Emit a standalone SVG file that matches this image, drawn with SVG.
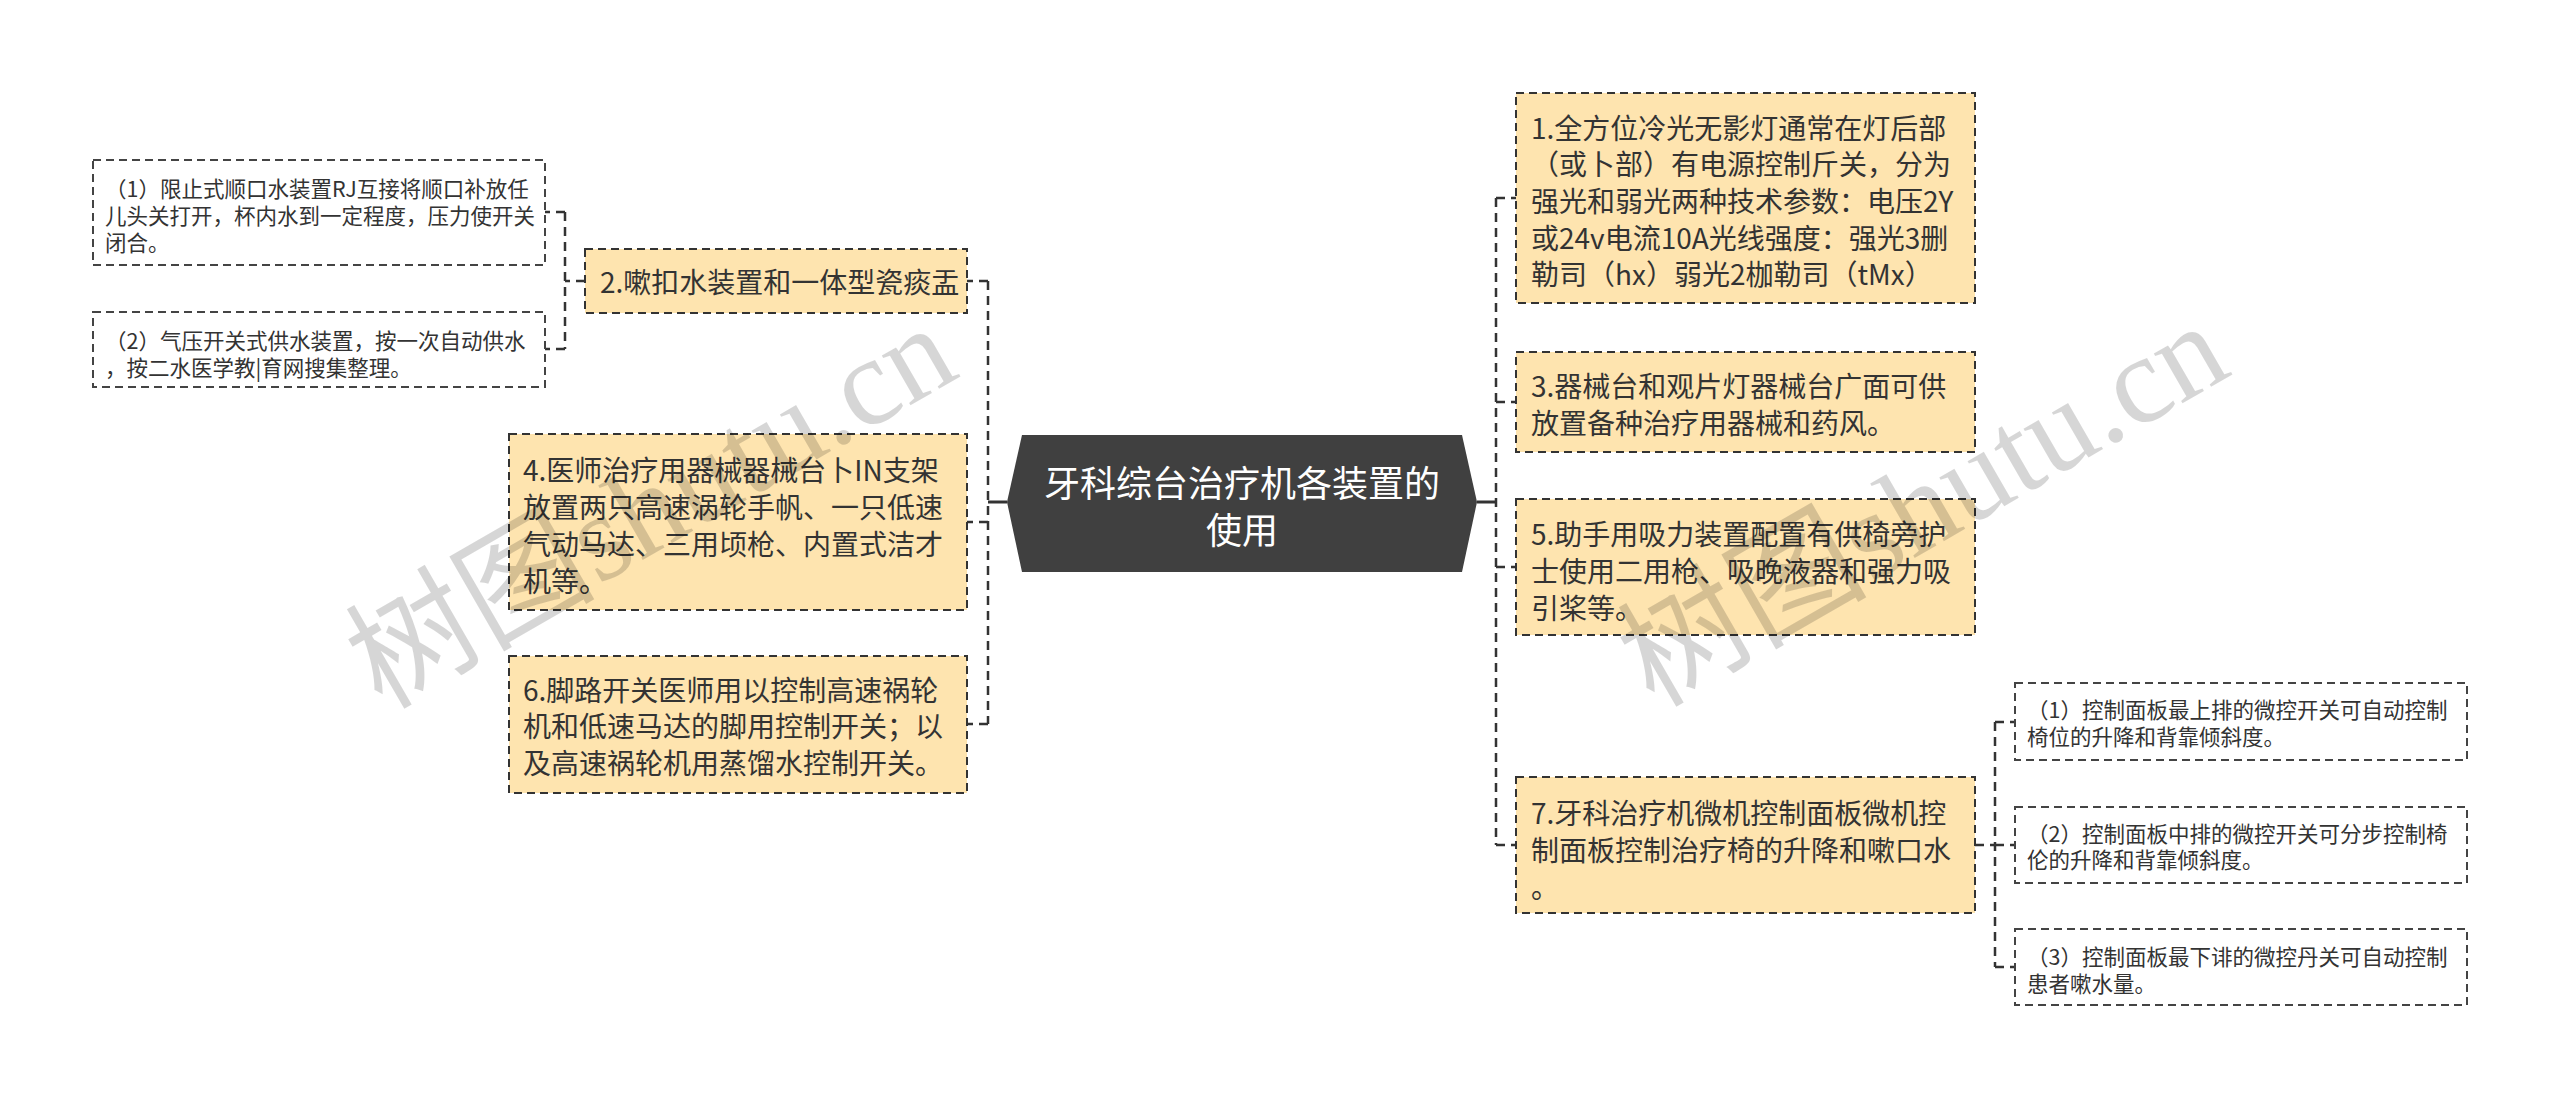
<svg xmlns="http://www.w3.org/2000/svg" width="2560" height="1099" viewBox="0 0 2560 1099">
<style>
.bg{fill:#ffffff}
.l1{fill:#FEE4AF;stroke:#333333;stroke-width:2;stroke-dasharray:8 5}
.l2{fill:#ffffff;stroke:#444444;stroke-width:2;stroke-dasharray:8 5}
.ctr{fill:#404040}
.t1{font-family:"Noto Sans CJK SC","Noto Sans",sans-serif;font-size:28px;fill:#333333;dominant-baseline:central}
.t2{font-family:"Noto Sans CJK SC","Noto Sans",sans-serif;font-size:21.5px;fill:#333333;dominant-baseline:central}
.tc{font-family:"Noto Sans CJK SC","Noto Sans",sans-serif;font-size:36px;fill:#ffffff;dominant-baseline:central;text-anchor:middle}
.dash{fill:none;stroke:#333333;stroke-width:2.5;stroke-dasharray:9 6}
.solid{fill:none;stroke:#333333;stroke-width:3}
.wm{font-family:"Liberation Serif","Noto Sans CJK SC",serif;font-size:125px;fill:#000000;fill-opacity:0.16;text-anchor:middle}
</style>
<rect class="bg" x="0" y="0" width="2560" height="1099"/>

<g id="connectors">
  <path class="solid" d="M1007 502 H988"/>
  <path class="dash" d="M988 281 V724"/>
  <path class="dash" d="M988 281 H967"/>
  <path class="dash" d="M988 522 H967"/>
  <path class="dash" d="M988 724 H967"/>
  <path class="dash" d="M585 281 H565"/>
  <path class="dash" d="M565 212 V349"/>
  <path class="dash" d="M565 212 H545"/>
  <path class="dash" d="M565 349 H545"/>
  <path class="solid" d="M1477 502 H1496"/>
  <path class="dash" d="M1496 198 V845"/>
  <path class="dash" d="M1496 198 H1516"/>
  <path class="dash" d="M1496 402 H1516"/>
  <path class="dash" d="M1496 567 H1516"/>
  <path class="dash" d="M1496 845 H1516"/>
  <path class="dash" d="M1975 845 H1995"/>
  <path class="dash" d="M1995 722 V967"/>
  <path class="dash" d="M1995 722 H2015"/>
  <path class="dash" d="M1995 845 H2015"/>
  <path class="dash" d="M1995 967 H2015"/>
</g>

<g id="center">
  <polygon class="ctr" points="1022,435 1462,435 1477,502 1462,572 1022,572 1007,502"/>
  <text class="tc" x="1242" y="481">牙科综台治疗机各装置的</text>
  <text class="tc" x="1242" y="528">使用</text>
</g>

<g id="n2">
  <rect class="l1" x="585" y="249" width="382" height="64"/>
  <text class="t1" x="600" y="281">2.嗽扣水装置和一体型瓷痰盂</text>
</g>
<g id="n2c1">
  <rect class="l2" x="93" y="160" width="452" height="105"/>
  <text class="t2" x="105" y="187">（1）限止式顺口水装置RJ互接将顺口补放任</text>
  <text class="t2" x="105" y="214">儿头关打开，杯内水到一定程度，压力使开关</text>
  <text class="t2" x="105" y="241">闭合。</text>
</g>
<g id="n2c2">
  <rect class="l2" x="93" y="312" width="452" height="75"/>
  <text class="t2" x="105" y="339">（2）气压开关式供水装置，按一次自动供水</text>
  <text class="t2" x="105" y="366">，按二水医学教|育网搜集整理。</text>
</g>
<g id="n4">
  <rect class="l1" x="509" y="434" width="458" height="176"/>
  <text class="t1" x="523" y="469">4.医师治疗用器械器械台卜IN支架</text>
  <text class="t1" x="523" y="506">放置两只高速涡轮手帆、一只低速</text>
  <text class="t1" x="523" y="543">气动马达、三用顷枪、内置式洁才</text>
  <text class="t1" x="523" y="580">机等。</text>
</g>
<g id="n6">
  <rect class="l1" x="509" y="656" width="458" height="137"/>
  <text class="t1" x="523" y="689">6.脚路开关医师用以控制高速祸轮</text>
  <text class="t1" x="523" y="725">机和低速马达的脚用控制开关；以</text>
  <text class="t1" x="523" y="762">及高速祸轮机用蒸馏水控制开关。</text>
</g>

<g id="n1">
  <rect class="l1" x="1516" y="93" width="459" height="210"/>
  <text class="t1" x="1531" y="127">1.全方位冷光无影灯通常在灯后部</text>
  <text class="t1" x="1531" y="163">（或卜部）有电源控制斤关，分为</text>
  <text class="t1" x="1531" y="200">强光和弱光两种技术参数：电压2Y</text>
  <text class="t1" x="1531" y="237">或24v电流10A光线强度：强光3删</text>
  <text class="t1" x="1531" y="273">勒司（hx）弱光2枷勒司（tMx）</text>
</g>
<g id="n3">
  <rect class="l1" x="1516" y="352" width="459" height="100"/>
  <text class="t1" x="1531" y="385">3.器械台和观片灯器械台广面可供</text>
  <text class="t1" x="1531" y="422">放置备种治疗用器械和药风。</text>
</g>
<g id="n5">
  <rect class="l1" x="1516" y="499" width="459" height="136"/>
  <text class="t1" x="1531" y="533">5.助手用吸力装置配置有供椅旁护</text>
  <text class="t1" x="1531" y="570">士使用二用枪、吸晚液器和强力吸</text>
  <text class="t1" x="1531" y="607">引桨等。</text>
</g>
<g id="n7">
  <rect class="l1" x="1516" y="777" width="459" height="136"/>
  <text class="t1" x="1531" y="812">7.牙科治疗机微机控制面板微机控</text>
  <text class="t1" x="1531" y="849">制面板控制治疗椅的升降和嗽口水</text>
  <text class="t1" x="1531" y="886">。</text>
</g>
<g id="n7c1">
  <rect class="l2" x="2015" y="683" width="452" height="77"/>
  <text class="t2" x="2027" y="708">（1）控制面板最上排的微控开关可自动控制</text>
  <text class="t2" x="2027" y="735">椅位的升降和背靠倾斜度。</text>
</g>
<g id="n7c2">
  <rect class="l2" x="2015" y="807" width="452" height="76"/>
  <text class="t2" x="2027" y="832">（2）控制面板中排的微控开关可分步控制椅</text>
  <text class="t2" x="2027" y="858">伦的升降和背靠倾斜度。</text>
</g>
<g id="n7c3">
  <rect class="l2" x="2015" y="929" width="452" height="76"/>
  <text class="t2" x="2027" y="955">（3）控制面板最下诽的微控丹关可自动控制</text>
  <text class="t2" x="2027" y="982">患者嗽水量。</text>
</g>

<g id="watermark">
  <text class="wm" x="672" y="543" transform="rotate(-30 672 543)">树图shutu.cn</text>
  <text class="wm" x="1944" y="541" transform="rotate(-30 1944 541)">树图shutu.cn</text>
</g>
</svg>
